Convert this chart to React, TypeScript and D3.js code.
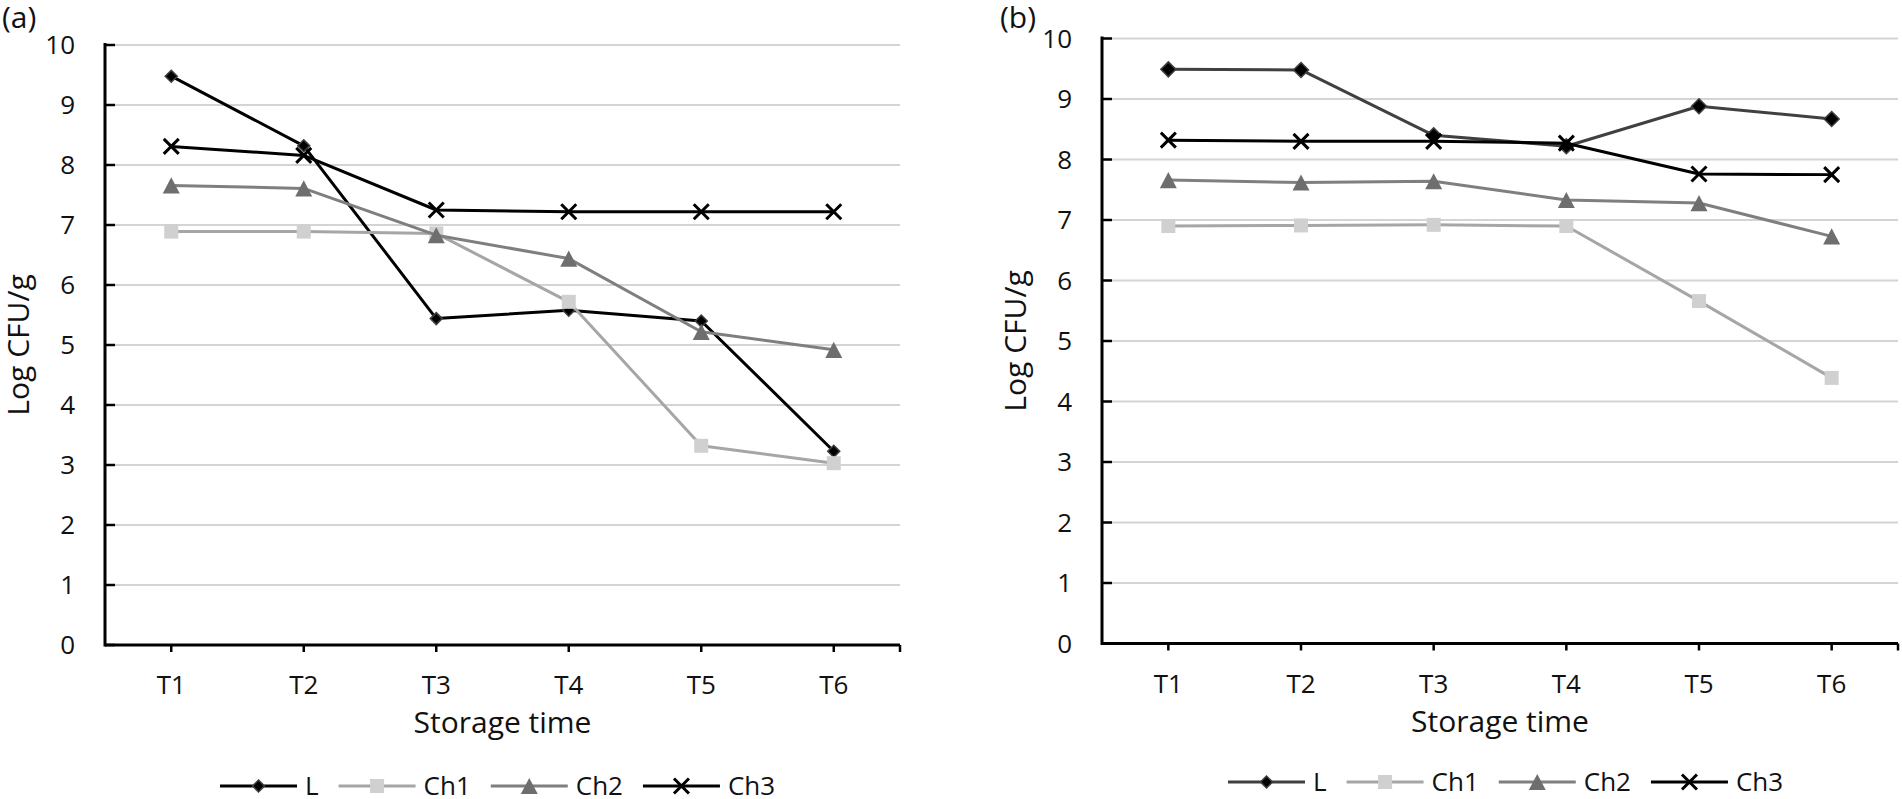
import React from "react";
import * as d3 from "d3";

const categories = ["T1", "T2", "T3", "T4", "T5", "T6"];
const yTicks = [0, 1, 2, 3, 4, 5, 6, 7, 8, 9, 10];
const seriesNames = ["L", "Ch1", "Ch2", "Ch3"];

const aL = [9.48, 8.32, 5.44, 5.58, 5.4, 3.23];
const aCh1 = [6.89, 6.89, 6.86, 5.72, 3.32, 3.03];
const aCh2 = [7.66, 7.61, 6.83, 6.44, 5.22, 4.92];
const aCh3 = [8.31, 8.16, 7.25, 7.22, 7.22, 7.22];

const bL = [9.49, 9.48, 8.4, 8.22, 8.88, 8.67];
const bCh1 = [6.9, 6.91, 6.92, 6.9, 5.66, 4.39];
const bCh2 = [7.66, 7.62, 7.64, 7.33, 7.28, 6.73];
const bCh3 = [8.32, 8.3, 8.3, 8.27, 7.76, 7.75];

const FONT = "'Open Sans', 'Noto Sans', sans-serif";

type Style = { line: string; marker: string; fill: string; stroke: string; size: number };

function measure(text: string, size: number): number {
  const c = document.createElement("canvas");
  const ctx = c.getContext("2d");
  if (!ctx) return text.length * size * 0.6;
  ctx.font = `${size}px 'Open Sans'`;
  return ctx.measureText(text).width;
}

function Marker({ kind, x, y, st }: { kind: string; x: number; y: number; st: Style }) {
  const s = st.size;
  if (kind === "diamond") {
    const r = s / 2;
    return <path d={`M${x},${y - r}L${x + r},${y}L${x},${y + r}L${x - r},${y}Z`} fill={st.fill} stroke={st.stroke} strokeWidth={1.5} />;
  }
  if (kind === "square") {
    return <rect x={x - s / 2} y={y - s / 2} width={s} height={s} fill={st.fill} />;
  }
  if (kind === "triangle") {
    const w = s, h = s * 0.95;
    return <path d={`M${x},${y - h / 2}L${x + w / 2},${y + h / 2}L${x - w / 2},${y + h / 2}Z`} fill={st.fill} />;
  }
  const r = s / 2;
  return (
    <path d={`M${x - r},${y - r}L${x + r},${y + r}M${x - r},${y + r}L${x + r},${y - r}`} stroke={st.fill} strokeWidth={3} fill="none" />
  );
}

const kinds = ["diamond", "square", "triangle", "x"];

function Panel({
  label, labelX, x0, x1, yTop, yBottom, titleX, legendX, legendY, data, styles,
}: {
  label: string; labelX: number; x0: number; x1: number; yTop: number; yBottom: number;
  titleX: number; legendX: number; legendY: number; data: number[][]; styles: Style[];
}) {
  const x = d3.scalePoint<string>().domain(categories).range([x0, x1]).padding(0.5);
  const y = d3.scaleLinear().domain([0, 10]).range([yBottom, yTop]);
  const line = d3.line<number>().x((_, i) => x(categories[i]) as number).y((d) => y(d));
  const cx = (x0 + x1) / 2;
  const cy = (yTop + yBottom) / 2;

  let lx = legendX;
  const legendItems = seriesNames.map((name, i) => {
    const start = lx;
    const tw = measure(name, 26);
    lx += 77 + 8 + tw + 20;
    return { name, start, i };
  });

  return (
    <g>
      <text x={labelX} y={28} fontSize={30} fontFamily={FONT} fill="#111">{label}</text>
      {yTicks.map((t) => (
        <line key={"g" + t} x1={x0} x2={x1} y1={y(t)} y2={y(t)} stroke="#d4d4d4" strokeWidth={2} />
      ))}
      {yTicks.map((t) => (
        <g key={"yt" + t}>
          <line x1={x0} x2={x0 + 10} y1={y(t)} y2={y(t)} stroke="#000" strokeWidth={2.5} />
          <text x={x0 - 30} y={y(t)} dy="0.36em" textAnchor="end" fontSize={26} fontFamily={FONT} fill="#111">{t}</text>
        </g>
      ))}
      <line x1={x0} x2={x0} y1={yTop - 2} y2={yBottom + 1.5} stroke="#000" strokeWidth={3} />
      <line x1={x0} x2={x1} y1={yBottom} y2={yBottom} stroke="#000" strokeWidth={3} />
      {categories.map((c) => (
        <g key={"xt" + c}>
          <line x1={x(c)} x2={x(c)} y1={yBottom} y2={yBottom + 7} stroke="#000" strokeWidth={2.5} />
          <text x={x(c)} y={yBottom + 49} textAnchor="middle" fontSize={26} fontFamily={FONT} fill="#111">{c}</text>
        </g>
      ))}
      <line x1={x1} x2={x1} y1={yBottom} y2={yBottom + 7} stroke="#000" strokeWidth={2.5} />
      <text x={cx} y={yBottom + 88} textAnchor="middle" fontSize={30} fontFamily={FONT} fill="#111">Storage time</text>
      <text transform={`translate(${titleX},${cy}) rotate(-90)`} textAnchor="middle" fontSize={30} fontFamily={FONT} fill="#111">Log CFU/g</text>
      {data.map((vals, si) => (
        <g key={"s" + si}>
          <path d={line(vals) as string} fill="none" stroke={styles[si].line} strokeWidth={3} strokeLinejoin="round" />
          {vals.map((v, i) => (
            <Marker key={i} kind={kinds[si]} x={x(categories[i]) as number} y={y(v)} st={styles[si]} />
          ))}
        </g>
      ))}
      {legendItems.map(({ name, start, i }) => (
        <g key={"lg" + name}>
          <line x1={start} x2={start + 77} y1={legendY} y2={legendY} stroke={styles[i].line} strokeWidth={3} />
          <Marker kind={kinds[i]} x={start + 38.5} y={legendY} st={{ ...styles[i], size: i === 0 ? Math.min(styles[i].size, 12) : styles[i].size }} />
          <text x={start + 85} y={legendY} dy="0.36em" fontSize={26} fontFamily={FONT} fill="#111">{name}</text>
        </g>
      ))}
    </g>
  );
}

export default function App() {
  const stylesA: Style[] = [
    { line: "#000000", marker: "diamond", fill: "#000000", stroke: "#404040", size: 12 },
    { line: "#a6a6a6", marker: "square", fill: "#d0d0d0", stroke: "none", size: 14 },
    { line: "#7f7f7f", marker: "triangle", fill: "#6e6e6e", stroke: "none", size: 17 },
    { line: "#000000", marker: "x", fill: "#000000", stroke: "none", size: 15 },
  ];
  const stylesB: Style[] = [
    { line: "#404040", marker: "diamond", fill: "#000000", stroke: "#404040", size: 15 },
    { line: "#a6a6a6", marker: "square", fill: "#d0d0d0", stroke: "none", size: 14 },
    { line: "#7f7f7f", marker: "triangle", fill: "#6e6e6e", stroke: "none", size: 17 },
    { line: "#000000", marker: "x", fill: "#000000", stroke: "none", size: 15 },
  ];
  return (
    <svg width={1902} height={799} style={{ position: "absolute", left: 0, top: 0, background: "#fff" }}>
      <rect width={1902} height={799} fill="#fff" />
      <Panel label="(a)" labelX={2} x0={105} x1={900} yTop={45} yBottom={645} titleX={29} legendX={220} legendY={786}
        data={[aL, aCh1, aCh2, aCh3]} styles={stylesA} />
      <Panel label="(b)" labelX={1000} x0={1102} x1={1898} yTop={38.5} yBottom={643.5} titleX={1026} legendX={1228} legendY={782}
        data={[bL, bCh1, bCh2, bCh3]} styles={stylesB} />
    </svg>
  );
}
